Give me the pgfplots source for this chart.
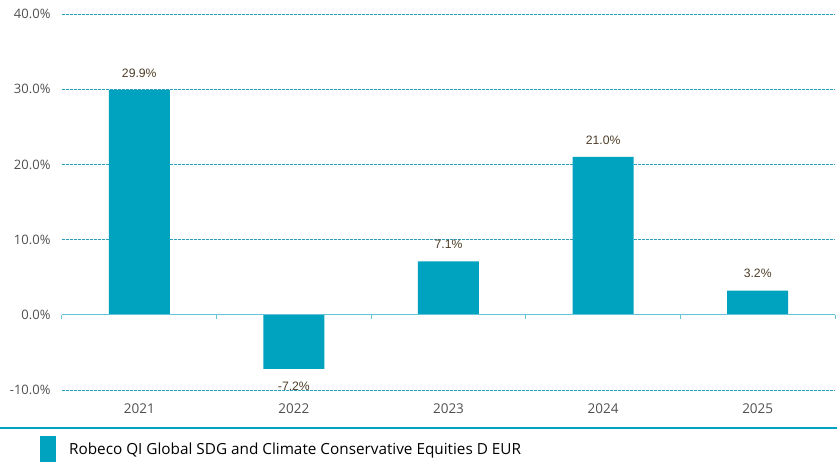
\documentclass[border=0pt]{standalone}
\usepackage{pgfplots}
\pgfplotsset{compat=1.18}
\usepackage{fontspec}
\setmainfont{Open Sans}
\newfontfamily\labfont{Liberation Sans}
\definecolor{bar}{RGB}{0,163,191}
\definecolor{gridc}{RGB}{40,160,190}
\definecolor{zeroc}{RGB}{100,195,212}
\definecolor{tickc}{RGB}{80,80,80}
\definecolor{valc}{RGB}{77,62,40}
\begin{document}
\begin{tikzpicture}
\begin{axis}[
  scale only axis,
  width=773pt, height=376pt,
  xmin=-0.5, xmax=4.5,
  ymin=-10, ymax=40,
  ytick={-10,0,10,20,30,40},
  yticklabel={\pgfmathprintnumber[fixed,fixed zerofill,precision=1]{\tick}\%},
  /pgf/number format/assume math mode=true,
  xtick={0,1,2,3,4},
  xticklabels={2021,2022,2023,2024,2025},
  axis line style={draw=none},
  major tick length=0pt,
  ymajorgrids,
  grid style={gridc, line width=0.8pt, dash pattern=on 3pt off 1pt},
  yticklabel style={font=\fontsize{13}{15}\selectfont, text=tickc, xshift=-8pt},
  xticklabel style={font=\fontsize{13.5}{15}\selectfont, text=tickc, yshift=-10pt},
  ybar, bar width=61pt,
  clip=false,
  nodes near coords={\pgfmathprintnumber[fixed,fixed zerofill,precision=1]{\pgfplotspointmeta}\%},
  nodes near coords style={font=\labfont\fontsize{12.2}{14}\selectfont, text=valc, inner ysep=12.5pt},
  legend style={at={(axis description cs:-0.0285,-0.157)}, anchor=west, draw=none, fill=none, inner sep=0pt,
    font=\fontsize{15.3}{17}\selectfont, text=black,
    /tikz/every even column/.style={column sep=0pt}},
  legend cell align=left,
  legend image code/.code={\fill[#1] (0pt,-13.5pt) rectangle (16pt,13.5pt);},
]
\addplot[fill=bar, draw=none] coordinates {(0,29.9) (1,-7.2) (2,7.1) (3,21.0) (4,3.2)};
\addlegendentry{\hspace{11pt}Robeco QI Global SDG and Climate Conservative Equities D EUR}
\draw[zeroc, line width=1pt] (axis cs:-0.5,0) -- (axis cs:4.5,0);
\draw[zeroc, line width=1pt] (axis cs:-0.5,0) -- (axis cs:-0.5,-0.6);
\draw[zeroc, line width=1pt] (axis cs:0.5,0) -- (axis cs:0.5,-0.6);
\draw[zeroc, line width=1pt] (axis cs:1.5,0) -- (axis cs:1.5,-0.6);
\draw[zeroc, line width=1pt] (axis cs:2.5,0) -- (axis cs:2.5,-0.6);
\draw[zeroc, line width=1pt] (axis cs:3.5,0) -- (axis cs:3.5,-0.6);
\draw[zeroc, line width=1pt] (axis cs:4.5,0) -- (axis cs:4.5,-0.6);
\draw[bar, line width=2pt] (axis cs:-0.901,-15.05) -- (axis cs:4.513,-15.05);
\coordinate (bl) at (axis cs:-0.901,-19.57);
\coordinate (tr) at (axis cs:4.513,41.86);
\end{axis}
\pgfresetboundingbox
\path[use as bounding box] (bl) rectangle (tr);
\end{tikzpicture}
\end{document}
